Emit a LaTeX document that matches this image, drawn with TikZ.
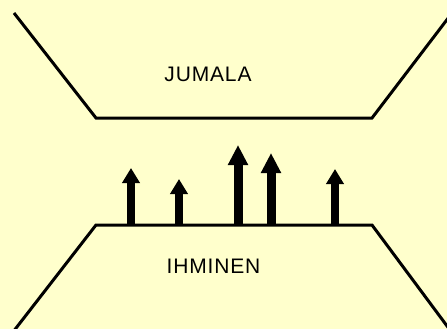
\documentclass[tikz,border=0pt]{standalone}
\usepackage{fontspec}
\setmainfont{Liberation Sans}
\usetikzlibrary{arrows.meta}
\definecolor{paper}{RGB}{255,255,204}
\tikzset{
  wall/.style={line width=3pt, line join=miter},
  lift/.style={line width=7.5pt, -{Triangle[width=17pt,length=15pt]}},
  biglift/.style={line width=9pt, -{Triangle[width=19pt,length=20pt]}},
  word/.style={font=\fontsize{21pt}{24pt}\selectfont\addfontfeature{LetterSpace=4}}
}
\begin{document}
\begin{tikzpicture}[x=1pt,y=-1pt]
\fill[paper] (0,0) rectangle (447,329);
\useasboundingbox (0,0) rectangle (447,329);
\clip (0,0) rectangle (447,329);
\node[word] (god) at (208,74.5) {JUMALA};
\node[word] (man) at (213.5,266) {IHMINEN};
\draw[wall] (14,13) -- (96,118) -- (372,118) -- (449,17);
\draw[wall] (13,332) -- (96,225) -- (372,225) -- (450,330);
\coordinate (b1) at (131,225); \coordinate (t1) at (131,168);
\coordinate (b2) at (179,225); \coordinate (t2) at (179,179);
\coordinate (b3) at (238,225); \coordinate (t3) at (238,145);
\coordinate (b4) at (271,225); \coordinate (t4) at (271,153);
\coordinate (b5) at (335,225); \coordinate (t5) at (335,169);
\draw[lift] (b1) -- (t1);
\draw[lift] (b2) -- (t2);
\draw[biglift] (b3) -- (t3);
\draw[biglift] (b4) -- (t4);
\draw[lift] (b5) -- (t5);
\end{tikzpicture}
\end{document}
